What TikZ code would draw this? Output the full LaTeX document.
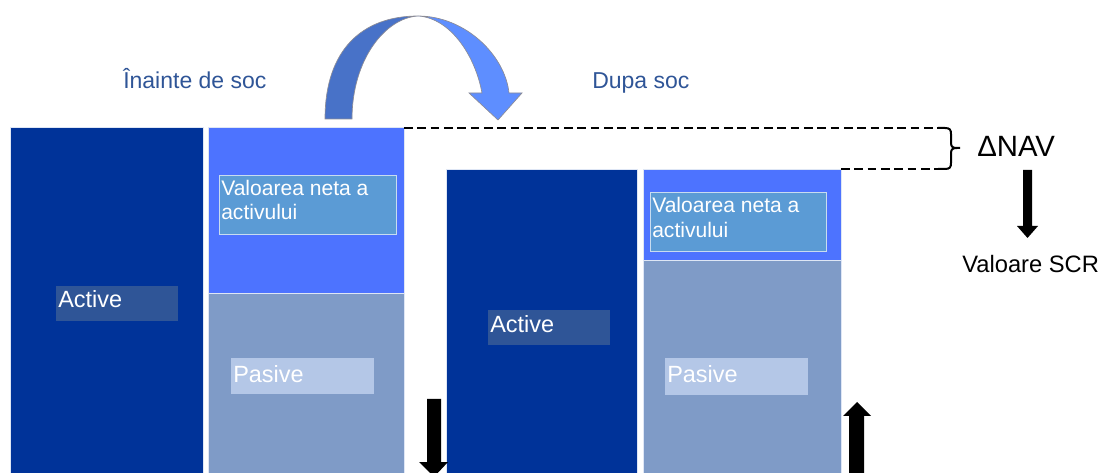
\documentclass[tikz,border=0pt]{standalone}
\usepackage{fontspec}
\setmainfont{Liberation Sans}
\definecolor{cAct}{RGB}{0,51,153}
\definecolor{cNav}{RGB}{77,115,255}
\definecolor{cPas}{RGB}{127,155,199}
\definecolor{cActLbl}{RGB}{47,85,151}
\definecolor{cNavLbl}{RGB}{91,155,213}
\definecolor{cNavEdge}{RGB}{200,220,240}
\definecolor{cPasLbl}{RGB}{180,199,231}
\definecolor{cTitle}{RGB}{47,85,151}
\definecolor{cArcL}{RGB}{72,114,200}
\definecolor{cArcR}{RGB}{94,142,255}
\definecolor{cEdge}{RGB}{222,230,245}
\definecolor{cArcEdge}{RGB}{140,140,150}
\begin{document}
\begin{tikzpicture}[x=0.75pt,y=-0.75pt,
  col/.style={draw=cEdge,line width=0.4pt},
  lbl/.style={anchor=base west,inner sep=0pt,text=white},
  bigtxt/.style={font=\fontsize{17.6}{21}\selectfont},
  smalltxt/.style={font=\fontsize{15.8}{18}\selectfont},
  titletxt/.style={anchor=base west,inner sep=0pt,text=cTitle,font=\fontsize{17.25}{20}\selectfont},
  navbox/.style={fill=cNavLbl,draw=cNavEdge,line width=0.5pt},
  dsh/.style={dash pattern=on 6.5pt off 3.5pt,line width=2pt},
  brc/.style={line width=1.5pt},
  arcedge/.style={draw=cArcEdge,line width=0.5pt}
]
\useasboundingbox (0,0) rectangle (1102,473);
\clip (0,0) rectangle (1102,473);

% left balance sheet (before shock)
\path[col,fill=cAct] (10,127) rectangle (203,480);
\path[col,fill=cNav] (208,127) rectangle (404,293);
\path[col,fill=cPas] (208,293) rectangle (404,480);
\fill[cActLbl] (56,286) rectangle (178,321);
\path[navbox] (219,175) rectangle (396,234);
\fill[cPasLbl] (231,358) rectangle (374,394);

% right balance sheet (after shock)
\path[col,fill=cAct] (446,169) rectangle (637,480);
\path[col,fill=cNav] (643,169) rectangle (841,260);
\path[col,fill=cPas] (643,260) rectangle (841,480);
\fill[cActLbl] (488,310) rectangle (610,345);
\path[navbox] (650,192) rectangle (826,251);
\fill[cPasLbl] (665,358) rectangle (808,395);

% labels
\node[lbl,bigtxt] (act1) at (58,308) {Active};
\node[lbl,smalltxt] (v1a) at (221,196) {Valoarea neta a};
\node[lbl,smalltxt] (v1b) at (221,220) {activului};
\node[lbl,bigtxt] (pas1) at (233,383) {Pasive};
\node[lbl,bigtxt] (act2) at (490,333) {Active};
\node[lbl,smalltxt] (v2a) at (652,213) {Valoarea neta a};
\node[lbl,smalltxt] (v2b) at (652,238) {activului};
\node[lbl,bigtxt] (pas2) at (667,383) {Pasive};

\node[titletxt] (t1) at (123,89) {Înainte de soc};
\node[titletxt] (t2) at (592,89) {Dupa soc};

\node[anchor=base west,inner sep=0pt,font=\fontsize{22}{25}\selectfont] (dnav) at (977,157) {ΔNAV};
\node[anchor=base west,inner sep=0pt,font=\fontsize{17.8}{21}\selectfont] (scr) at (962,273) {Valoare SCR};

% dashed NAV difference
\draw[dsh] (404,128) -- (941,128);
\draw[dsh] (841,169) -- (941,169);
\draw[brc] (938,128) -- (945,128) .. controls (950,128) and (951,130) .. (951,134) -- (951,143) .. controls (951,147) and (953,148) .. (957,148) -- (960,148);
\draw[brc] (938,169) -- (945,169) .. controls (950,169) and (951,167) .. (951,163) -- (951,153) .. controls (951,149) and (953,148) .. (957,148);

% block arrows
\fill (427,399) -- (441,399) -- (441,462) -- (448,462) -- (434,477) -- (419,462) -- (427,462) -- cycle;
\fill (857,402) -- (871,416) -- (864,416) -- (864,480) -- (849,480) -- (849,416) -- (843,416) -- cycle;
\fill (1023,170) -- (1032,170) -- (1032,226) -- (1038,226) -- (1027.5,238) -- (1017,226) -- (1023,226) -- cycle;

% curved arrow
\path[arcedge,fill=cArcL] (325,119) .. controls (325,50) and (362,16) .. (418,16)
  .. controls (385,18) and (352,60) .. (352,119) -- cycle;
\path[arcedge,fill=cArcR] (418,16) .. controls (465,16) and (505,55) .. (509,93)
  -- (522,93) -- (498,120) -- (469,93) -- (482,93)
  .. controls (475,55) and (450,18) .. (418,16) -- cycle;
\end{tikzpicture}
\end{document}
